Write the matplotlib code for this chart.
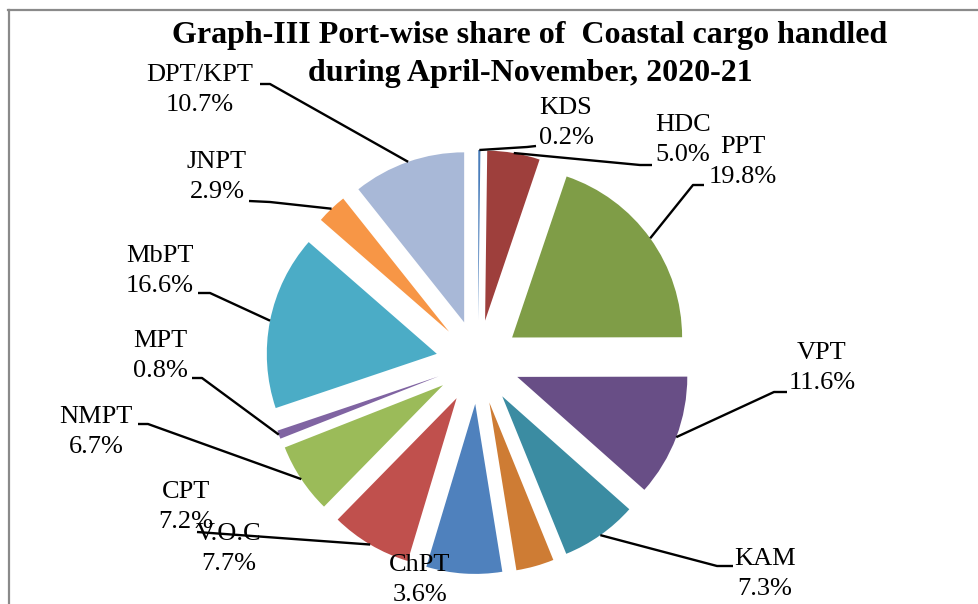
import numpy as np
import matplotlib
matplotlib.use("Agg")
import matplotlib.pyplot as plt

# Data (clockwise from 12 o'clock)
ports = ["KDS", "HDC", "PPT", "VPT", "KAM", "ChPT", "CPT", "V.O.C",
         "NMPT", "MPT", "MbPT", "JNPT", "DPT/KPT"]
shares = [0.2, 5.0, 19.8, 11.6, 7.3, 3.6, 7.2, 7.7, 6.7, 0.8, 16.6, 2.9, 10.7]
colors = ["#4A7EBB", "#9E3F3C", "#7F9D47", "#684E86", "#3B8CA2", "#CE7C34",
          "#4F81BD", "#C0504D", "#9BBB59", "#8064A2", "#4BACC6", "#F79646",
          "#A8B8D7"]

# label layout (pixel coords, y from top): text centre, leader start, elbow
label_pos = {
    "KDS": (566, 123), "HDC": (683, 140), "PPT": (743, 162), "VPT": (822, 368),
    "KAM": (765, 574), "ChPT": (420, 580), "CPT": (186, 507), "V.O.C": (229, 549),
    "NMPT": (96, 432), "MPT": (160, 356), "MbPT": (160, 271), "JNPT": (217, 177),
    "DPT/KPT": (200, 90),
}
leader_pts = {
    "KDS": [(536, 146), (527, 147)],
    "HDC": [(652, 165), (640, 165)],
    "PPT": [(704, 185), (693, 185)],
    "VPT": [(787, 392), (774, 392)],
    "KAM": [(733, 566), (717, 566)],
    "V.O.C": [(197, 532)],
    "NMPT": [(138, 424), (148, 424)],
    "MPT": [(192, 378), (202, 378)],
    "MbPT": [(198, 293), (210, 293)],
    "JNPT": [(249, 201), (270, 202)],
    "DPT/KPT": [(260, 84), (270, 84)],
}

W, H = 979, 604
CX, CY, R = 478, 362, 170

fig = plt.figure(figsize=(W / 100, H / 100), dpi=100)
ax = fig.add_axes([0, 0, 1, 1])

wedges, _ = ax.pie(shares, explode=[42] * len(shares), colors=colors,
                   startangle=-90, counterclock=True, center=(CX, CY),
                   radius=R, frame=True, wedgeprops=dict(linewidth=0))
ax.set_xlim(0, W)
ax.set_ylim(H, 0)
ax.set_aspect("equal")
ax.axis("off")

font = "Liberation Serif"
for port, val, w in zip(ports, shares, wedges):
    x, y = label_pos[port]
    ax.text(x, y - 15, port, ha="center", va="center", fontsize=19, family=font)
    ax.text(x, y + 15, f"{val:.1f}%", ha="center", va="center", fontsize=19, family=font)
    if port in leader_pts:
        mid = np.deg2rad((w.theta1 + w.theta2) / 2)
        ex = w.center[0] + w.r * np.cos(mid)
        ey = w.center[1] + w.r * np.sin(mid)
        pts = leader_pts[port] + [(ex, ey)]
        ax.plot([p[0] for p in pts], [p[1] for p in pts], color="black", lw=1.7,
                solid_capstyle="butt")

ax.text(530, 36, "Graph-III Port-wise share of  Coastal cargo handled",
        ha="center", va="center", fontsize=23, fontweight="bold", family=font)
ax.text(530, 73, "during April-November, 2020-21",
        ha="center", va="center", fontsize=23, fontweight="bold", family=font)

# chart area border (top and left edges visible)
ax.plot([8, W], [10, 10], color="#8a8a8a", lw=1.6, clip_on=False)
ax.plot([9, 9], [10, H], color="#8a8a8a", lw=1.6, clip_on=False)

fig.savefig("out.png", dpi=100)
